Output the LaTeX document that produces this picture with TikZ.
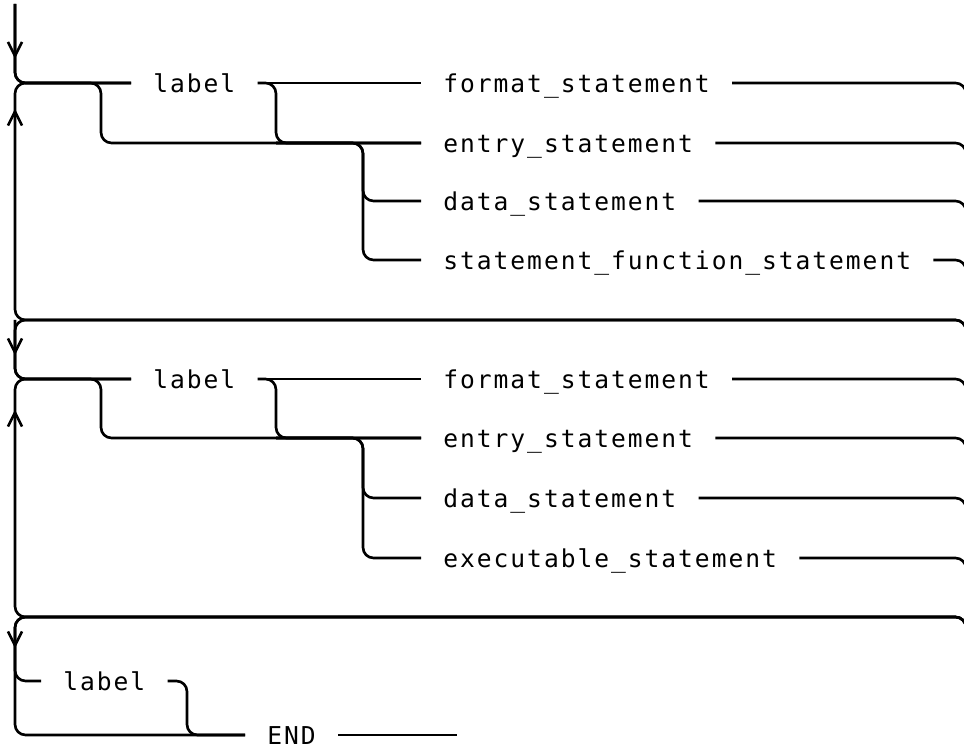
\documentclass[tikz,border=0pt]{standalone}
\usepackage{fontspec}
\newfontfamily\railfont{DejaVu Sans Mono}[LetterSpace=8]
\usetikzlibrary{arrows.meta,decorations.markings}
\newcommand\us{\char95\relax}
\tikzset{
  rail/.style={line width=1.5pt, rounded corners=6pt},
  word/.style={font=\railfont\fontsize{14}{16}\selectfont, anchor=west,
    inner xsep=0.44cm, inner ysep=0pt, text height=10.5pt, text depth=0pt},
  tipat/.style={postaction={decorate}, decoration={markings,
    mark=at position #1 with {\arrow{Straight Barb[length=8pt,width=8pt]}}}}
}
\begin{document}
\begin{tikzpicture}[x=0.02cm, y=-0.02cm]
  \useasboundingbox (0,0) rectangle (964,749);
  \clip (0,0) rectangle (964,749);
  % first block
  \node[word] (lab1) at (131,83) {label};
  \node[word] (fmt1) at (421,83) {format\us statement};
  \node[word] (ent1) at (421,143) {entry\us statement};
  \node[word] (dat1) at (421,201) {data\us statement};
  \node[word] (sff1) at (421,260) {statement\us function\us statement};
  \coordinate (top) at (15,4);
  \coordinate (a1) at (15,83);
  \coordinate (s1) at (101,143);
  \coordinate (k1) at (276,143);
  \coordinate (d1) at (363,201);
  \coordinate (t1) at (363,260);
  \coordinate (l1) at (15,320);
  \coordinate (r1) at (966,345);
  \draw[rail, tipat=1.1cm] (top) |- (lab1.west);
  \draw[rail] (top) -- (a1) -| (s1) -- (ent1.west);
  \draw[rail] (lab1.east) -- (fmt1.west);
  \draw[rail] (lab1.east) -| (k1) -- (ent1.west);
  \draw[rail] (k1) -| (d1) -- (dat1.west);
  \draw[rail] (k1) -| (t1) -- (sff1.west);
  \draw[rail] (fmt1.east) -| (r1);
  \draw[rail] (ent1.east) -| (r1);
  \draw[rail] (dat1.east) -| (r1);
  \draw[rail] (sff1.east) -| (r1);
  \draw[rail, tipat=-2.74cm] (r1) |- (l1) -- (a1) -- (lab1.west);
  % second block
  \node[word] (lab2) at (131,379) {label};
  \node[word] (fmt2) at (421,379) {format\us statement};
  \node[word] (ent2) at (421,438) {entry\us statement};
  \node[word] (dat2) at (421,498) {data\us statement};
  \node[word] (exe2) at (421,558) {executable\us statement};
  \coordinate (a2) at (15,379);
  \coordinate (s2) at (101,438);
  \coordinate (k2) at (276,438);
  \coordinate (d2) at (363,498);
  \coordinate (t2) at (363,558);
  \coordinate (l2) at (15,617);
  \coordinate (r2) at (966,642);
  \draw[rail, tipat=-2.7cm] (r1) |- (l1) -- (a2) -- (lab2.west);
  \draw[rail] (l1) -- (a2) -| (s2) -- (ent2.west);
  \draw[rail] (lab2.east) -- (fmt2.west);
  \draw[rail] (lab2.east) -| (k2) -- (ent2.west);
  \draw[rail] (k2) -| (d2) -- (dat2.west);
  \draw[rail] (k2) -| (t2) -- (exe2.west);
  \draw[rail] (fmt2.east) -| (r2);
  \draw[rail] (ent2.east) -| (r2);
  \draw[rail] (dat2.east) -| (r2);
  \draw[rail] (exe2.east) -| (r2);
  \draw[rail, tipat=-2.84cm] (r2) |- (l2) -- (a2) -- (lab2.west);
  % last block
  \node[word] (lab3) at (41,681) {label};
  \node[word] (end3) at (245,735) {END};
  \coordinate (a3) at (15,681);
  \coordinate (e3) at (15,735);
  \coordinate (k3) at (187,735);
  \coordinate (fin) at (457,735);
  \draw[rail, tipat=-1.08cm] (r2) |- (l2) -- (a3) -- (lab3.west);
  \draw[rail] (r2) |- (l2) -- (e3) -- (end3.west);
  \draw[rail] (lab3.east) -| (k3) -- (end3.west);
  \draw[rail] (end3.east) -- (fin);
\end{tikzpicture}
\end{document}
